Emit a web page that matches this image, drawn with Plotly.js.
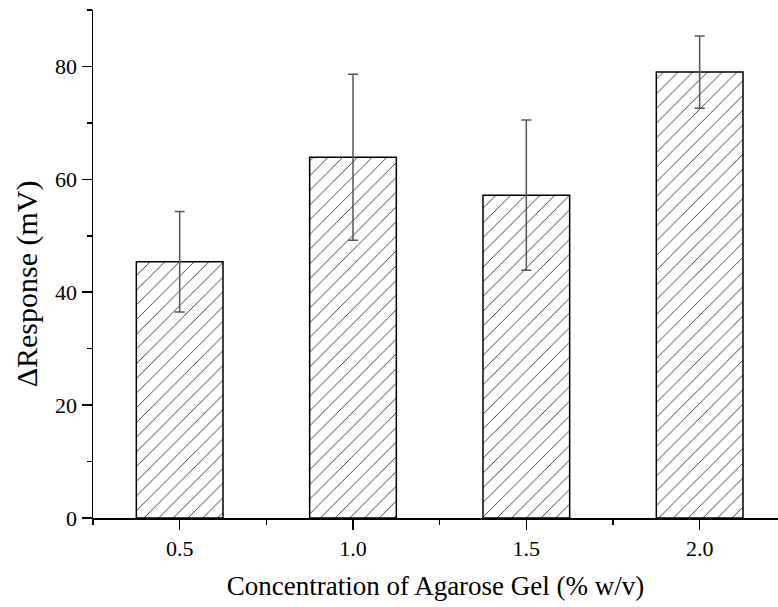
<!DOCTYPE html>
<html>
<head>
<meta charset="utf-8">
<script src="https://cdn.plot.ly/plotly-3.0.1.min.js"></script>
<style>html,body{margin:0;padding:0;background:#fff;}#chart{width:778px;height:607px;}</style>
</head>
<body>
<div id="chart"></div>
<script>
const concentrations = [0.5, 1.0, 1.5, 2.0];
const responses = [45.4, 63.9, 57.2, 79.0];
const errors = [8.9, 14.7, 13.3, 6.4];
const tickValues = [0.5, 1.0, 1.5, 2.0];
const tickLabels = ["0.5", "1.0", "1.5", "2.0"];
const xTitle = 'Concentration of Agarose Gel (% w/v)';
const yTitle = 'ΔResponse (mV)';

const font = "Liberation Serif, Times New Roman, serif";

const trace = {
  type: 'bar',
  x: concentrations,
  y: responses,
  width: 0.25,
  marker: {
    color: 'white',
    line: {color: '#000', width: 1.5},
    pattern: {shape: '/', size: 10.4, solidity: 0.07, fgcolor: '#000', bgcolor: 'white'}
  },
  error_y: {type: 'data', array: errors, visible: true, color: '#555', thickness: 1.5, width: 5}
};

const layout = {
  width: 778, height: 607,
  margin: {l: 93, r: 0, t: 10, b: 89},
  paper_bgcolor: 'white', plot_bgcolor: 'white',
  showlegend: false,
  font: {family: font, color: '#000'},
  xaxis: {
    range: [0.25, 2.226],
    tickvals: tickValues, ticktext: tickLabels,
    ticks: 'outside', ticklen: 10, tickwidth: 1.5, tickcolor: '#000',
    showline: true, linecolor: '#000', linewidth: 1.5,
    showgrid: false, zeroline: false,
    tickfont: {size: 22, family: font},
    minor: {dtick: 0.25, tick0: 0.25, ticks: 'outside', ticklen: 5, tickwidth: 1.5, tickcolor: '#000', showgrid: false},
    title: {text: xTitle, font: {size: 27, family: font}, standoff: 16}
  },
  yaxis: {
    range: [0, 90],
    dtick: 20, tick0: 0,
    ticks: 'outside', ticklen: 10, tickwidth: 1.5, tickcolor: '#000',
    showline: true, linecolor: '#000', linewidth: 1.5,
    showgrid: false, zeroline: false,
    tickfont: {size: 22, family: font},
    minor: {dtick: 10, tick0: 10, ticks: 'outside', ticklen: 5, tickwidth: 1.5, tickcolor: '#000', showgrid: false}
  },
  annotations: [{
    text: yTitle, textangle: -90, showarrow: false,
    xref: 'paper', yref: 'paper', x: 0, y: 0.46,
    xanchor: 'center', yanchor: 'middle', xshift: -66,
    font: {size: 30, family: font, color: '#000'}
  }]
};

Plotly.newPlot('chart', [trace], layout, {displayModeBar: false, staticPlot: true});
</script>
</body>
</html>
